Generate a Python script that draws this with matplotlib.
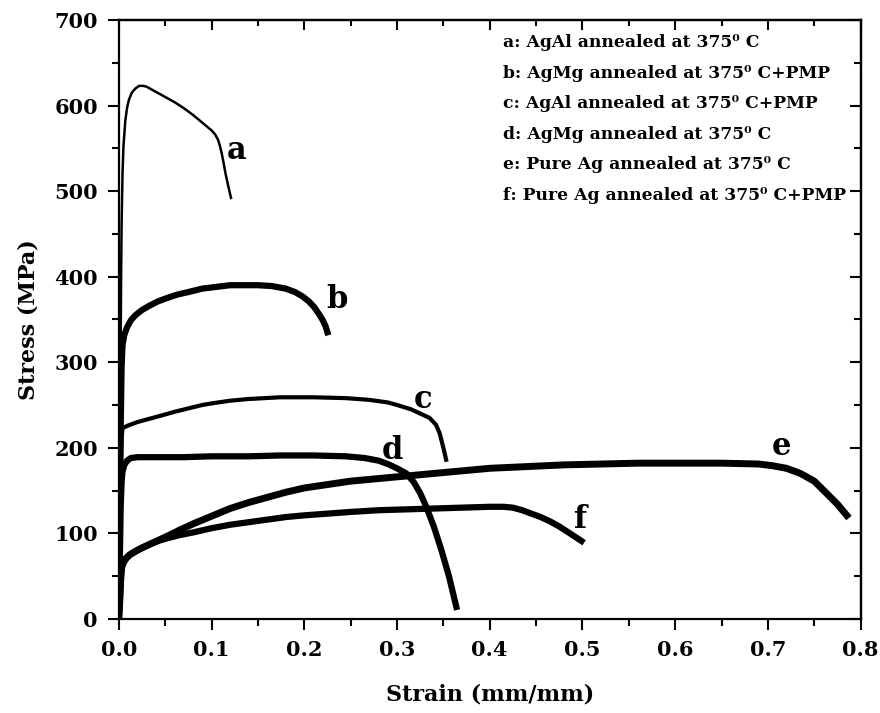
import matplotlib
matplotlib.use("Agg")
import matplotlib.pyplot as plt
from matplotlib.ticker import MultipleLocator

plt.rcParams['font.family'] = 'DejaVu Serif'
plt.rcParams['font.weight'] = 'bold'

# curve a: AgAl annealed at 375 C
strain_a = [0.0, 0.001, 0.0015, 0.002, 0.0025, 0.003, 0.004, 0.005, 0.007, 0.009, 0.011,
            0.014, 0.018, 0.022, 0.026, 0.030, 0.035, 0.040, 0.050, 0.060, 0.070, 0.080,
            0.090, 0.100, 0.104, 0.107, 0.109, 0.111, 0.113, 0.115, 0.118, 0.121]
stress_a = [0, 120, 220, 320, 400, 460, 520, 552, 582, 598, 607,
            615, 620, 623, 623, 622, 619, 616, 610, 604, 597, 589,
            580, 571, 566, 560, 553, 544, 533, 521, 506, 492]

# curve b: AgMg annealed at 375 C + PMP
strain_b = [0.0, 0.001, 0.002, 0.003, 0.004, 0.006, 0.009, 0.013, 0.018, 0.025, 0.033,
            0.042, 0.052, 0.063, 0.075, 0.090, 0.105, 0.120, 0.135, 0.150, 0.165, 0.180,
            0.190, 0.198, 0.205, 0.211, 0.216, 0.220, 0.223, 0.225]
stress_b = [0, 100, 220, 295, 320, 332, 341, 349, 355, 361, 366,
            371, 375, 379, 382, 386, 388, 390, 390, 390, 389, 386,
            382, 377, 371, 364, 356, 349, 342, 335]

# curve c: AgAl annealed at 375 C + PMP
strain_c = [0.0, 0.001, 0.002, 0.003, 0.004, 0.010, 0.020, 0.030, 0.047, 0.060, 0.075,
            0.090, 0.101, 0.120, 0.140, 0.174, 0.210, 0.245, 0.270, 0.290, 0.300, 0.315,
            0.325, 0.335, 0.342, 0.346, 0.350, 0.353]
stress_c = [0, 80, 170, 210, 223, 226, 230, 233, 238, 242, 246,
            250, 252, 255, 257, 259, 259, 258, 256, 253, 250, 245,
            240, 235, 227, 217, 200, 186]

# curve d: AgMg annealed at 375 C
strain_d = [0.0, 0.001, 0.002, 0.003, 0.004, 0.006, 0.009, 0.013, 0.020, 0.040, 0.070,
            0.100, 0.140, 0.174, 0.210, 0.245, 0.265, 0.280, 0.290, 0.300, 0.310, 0.318,
            0.325, 0.332, 0.340, 0.348, 0.356, 0.364]
stress_d = [0, 60, 130, 160, 172, 180, 185, 188, 189, 189, 189,
            190, 190, 191, 191, 190, 188, 185, 181, 176, 170, 160,
            147, 130, 107, 80, 50, 14]

# curve e: pure Ag annealed at 375 C
strain_e = [0.0, 0.001, 0.002, 0.003, 0.005, 0.008, 0.012, 0.018, 0.025, 0.035, 0.045,
            0.055, 0.066, 0.080, 0.100, 0.120, 0.140, 0.160, 0.180, 0.200, 0.225, 0.250,
            0.280, 0.310, 0.340, 0.370, 0.400, 0.440, 0.480, 0.520, 0.560, 0.600, 0.650,
            0.690, 0.705, 0.720, 0.735, 0.750, 0.763, 0.775, 0.785]
stress_e = [0, 20, 45, 60, 66, 71, 75, 79, 83, 88, 93,
            98, 104, 111, 120, 129, 136, 142, 148, 153, 157, 161,
            164, 167, 170, 173, 176, 178, 180, 181, 182, 182, 182,
            181, 179, 176, 170, 161, 147, 134, 121]

# curve f: pure Ag annealed at 375 C + PMP
strain_f = [0.0, 0.001, 0.002, 0.003, 0.005, 0.008, 0.012, 0.018, 0.025, 0.035, 0.045,
            0.055, 0.066, 0.080, 0.100, 0.120, 0.140, 0.160, 0.180, 0.200, 0.225, 0.250,
            0.280, 0.310, 0.340, 0.370, 0.400, 0.415, 0.425, 0.435, 0.445, 0.455, 0.465,
            0.475, 0.485, 0.492, 0.499]
stress_f = [0, 20, 45, 60, 66, 71, 75, 79, 83, 88, 92,
            95, 98, 101, 106, 110, 113, 116, 119, 121, 123, 125,
            127, 128, 129, 130, 131, 131, 130, 127, 123, 119, 114,
            108, 101, 96, 91]

curve_labels = ['a', 'b', 'c', 'd', 'e', 'f']
label_x = [0.127, 0.235, 0.328, 0.295, 0.715, 0.497]
label_y = [548, 373, 256, 197, 201, 116]

legend_lines = ['a: AgAl annealed at 375\u2070 C',
                'b: AgMg annealed at 375\u2070 C+PMP',
                'c: AgAl annealed at 375\u2070 C+PMP',
                'd: AgMg annealed at 375\u2070 C',
                'e: Pure Ag annealed at 375\u2070 C',
                'f: Pure Ag annealed at 375\u2070 C+PMP']

fig = plt.figure(figsize=(8.8, 7.13), dpi=100)
ax = fig.add_axes([0.135, 0.132, 0.843, 0.840])

ax.plot(strain_a, stress_a, color='black', lw=1.8)
ax.plot(strain_b, stress_b, color='black', lw=4.5)
ax.plot(strain_c, stress_c, color='black', lw=3.0)
ax.plot(strain_d, stress_d, color='black', lw=4.5)
ax.plot(strain_e, stress_e, color='black', lw=5.0)
ax.plot(strain_f, stress_f, color='black', lw=4.5)

for lab, lx, ly in zip(curve_labels, label_x, label_y):
    ax.text(lx, ly, lab, fontsize=22, fontweight='bold', ha='center', va='center')

for i, line in enumerate(legend_lines):
    ax.text(0.5175, 0.9616 - i * 0.0508, line, transform=ax.transAxes,
            fontsize=12.3, fontweight='bold', va='center', ha='left')

ax.set_xlim(0, 0.8)
ax.set_ylim(0, 700)
ax.xaxis.set_major_locator(MultipleLocator(0.1))
ax.xaxis.set_minor_locator(MultipleLocator(0.05))
ax.yaxis.set_major_locator(MultipleLocator(100))
ax.yaxis.set_minor_locator(MultipleLocator(50))
ax.set_xticklabels([f'{v:.1f}' for v in ax.get_xticks()])

ax.tick_params(which='major', direction='out', length=8, width=1.5, labelsize=15, pad=7)
ax.tick_params(which='minor', direction='out', length=5, width=1.5)
ax.tick_params(top=False, right=False)
for s in ax.spines.values():
    s.set_linewidth(1.6)

# mirrored inward ticks on top and right
top = ax.secondary_xaxis('top')
top.xaxis.set_major_locator(MultipleLocator(0.1))
top.xaxis.set_minor_locator(MultipleLocator(0.05))
top.tick_params(which='major', direction='in', length=7, width=1.5, labeltop=False)
top.tick_params(which='minor', direction='in', length=4, width=1.5)
right = ax.secondary_yaxis('right')
right.yaxis.set_major_locator(MultipleLocator(100))
right.yaxis.set_minor_locator(MultipleLocator(50))
right.tick_params(which='major', direction='in', length=8, width=1.5, labelright=False)
right.tick_params(which='minor', direction='in', length=5, width=1.5)
for sec in (top, right):
    for s in sec.spines.values():
        s.set_linewidth(1.6)

ax.set_xlabel('Strain (mm/mm)', fontsize=16, fontweight='bold', labelpad=17)
ax.set_ylabel('Stress (MPa)', fontsize=16, fontweight='bold', labelpad=11)

fig.savefig('out.png', dpi=100)
